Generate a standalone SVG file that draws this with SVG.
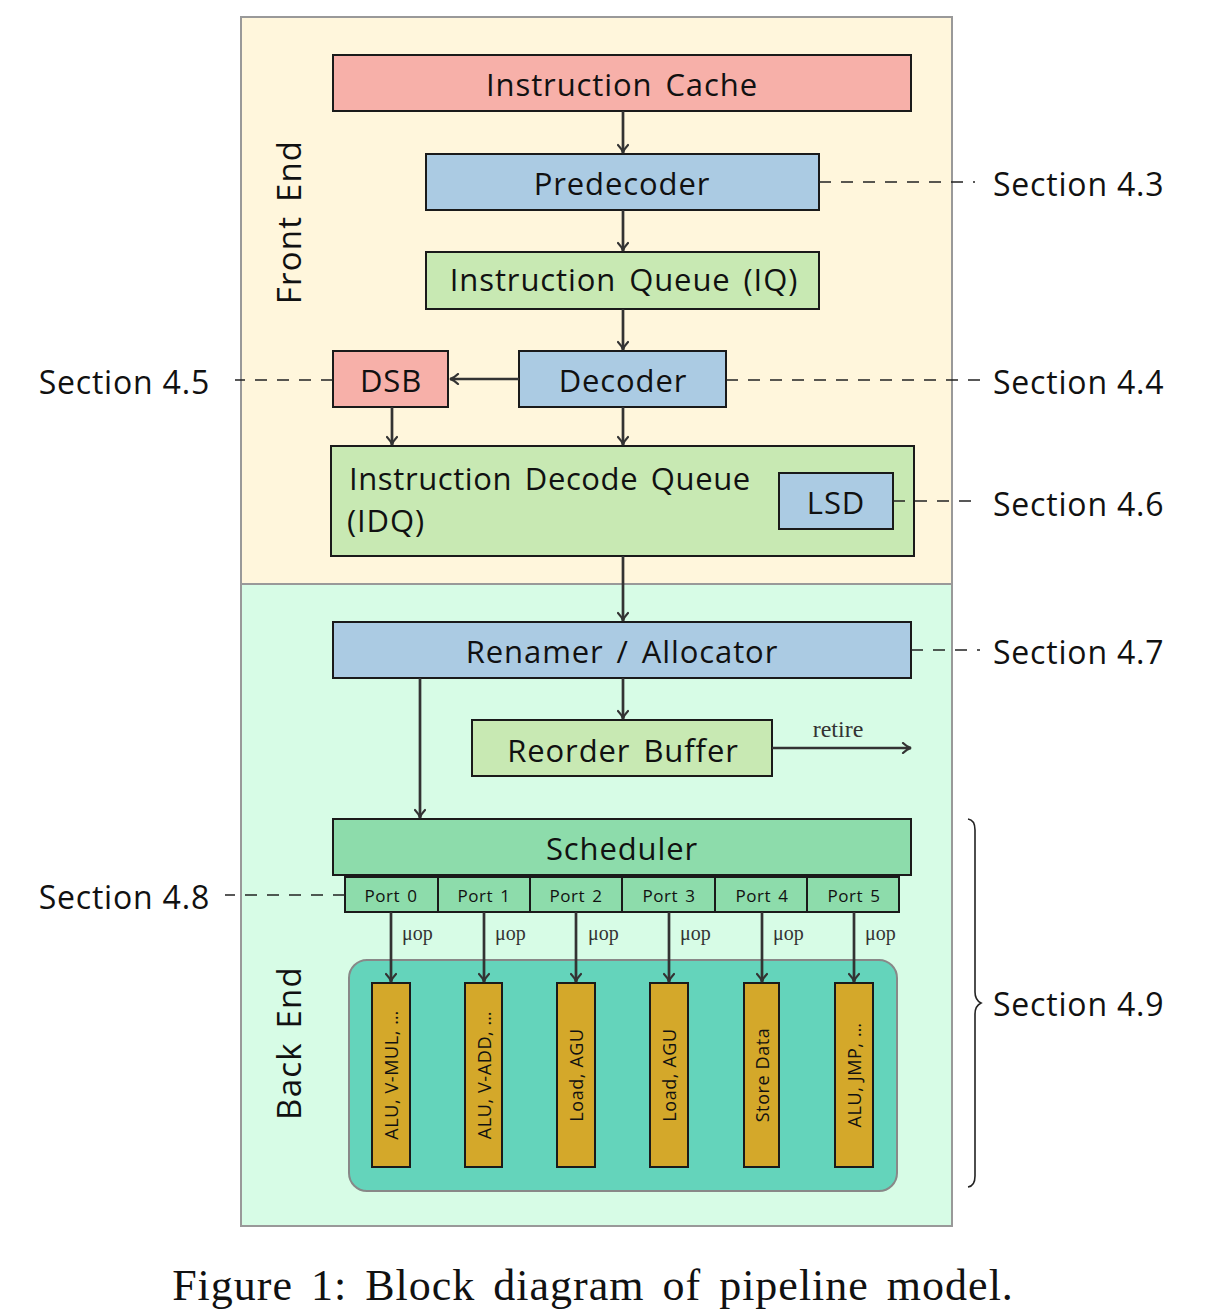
<svg xmlns="http://www.w3.org/2000/svg" width="1210" height="1314" viewBox="0 0 1210 1314">
<defs>
<marker id="ah" viewBox="0 0 12 12" refX="10" refY="6" markerWidth="12" markerHeight="12" markerUnits="userSpaceOnUse" orient="auto">
<path d="M2,1 Q6,5 10,6 Q6,7 2,11" fill="none" stroke="#333" stroke-width="2.2" stroke-linecap="round"/>
</marker>
<style>
.box{stroke:#1a1a1a;stroke-width:2}
.lbl{font-family:"Open Sans","DejaVu Sans",sans-serif;font-size:31px;letter-spacing:0.9px;word-spacing:4px;fill:#111;text-anchor:middle;dominant-baseline:central}
.sec{font-family:"Open Sans","DejaVu Sans",sans-serif;font-size:32px;letter-spacing:0.8px;fill:#111;dominant-baseline:central}
.port{font-family:"Open Sans","DejaVu Sans",sans-serif;font-size:17px;letter-spacing:0.6px;word-spacing:2px;fill:#111;text-anchor:middle;dominant-baseline:central}
.unit{font-family:"Open Sans","DejaVu Sans",sans-serif;font-size:18px;letter-spacing:0.6px;fill:#111;text-anchor:middle;dominant-baseline:central}
.mu{font-family:"Liberation Serif",serif;font-size:20px;fill:#333}
.arr{stroke:#333;stroke-width:2.7;fill:none;marker-end:url(#ah)}
.dash{stroke:#222;stroke-width:1.6;stroke-dasharray:12 10;fill:none}
.pink{fill:#f7b0a9}.blue{fill:#abcbe3}.green{fill:#c8e9b3}.sched{fill:#8ddcab}.unitf{fill:#d4a82a}
</style>
</defs>
<rect width="1210" height="1314" fill="#fff"/>
<g id="frontend">
<rect x="241" y="17" width="711" height="567" fill="#fff6dc" stroke="#999" stroke-width="2"/>
<text class="lbl" transform="translate(288,222) rotate(-90)" style="font-size:33px;letter-spacing:1.2px">Front End</text>
</g>
<g id="backend">
<rect x="241" y="584" width="711" height="642" fill="#d7fce6" stroke="#999" stroke-width="2"/>
<text class="lbl" transform="translate(288,1043) rotate(-90)" style="font-size:33px;letter-spacing:1.2px">Back End</text>
</g>
<g id="icache"><rect class="box pink" x="333" y="55" width="578" height="56"/><text class="lbl" x="622" y="84">Instruction Cache</text></g>
<g id="predecoder"><rect class="box blue" x="426" y="154" width="393" height="56"/><text class="lbl" x="622" y="183">Predecoder</text></g>
<g id="iq"><rect class="box green" x="426" y="252" width="393" height="57"/><text class="lbl" x="624" y="279">Instruction Queue (IQ)</text></g>
<g id="dsb"><rect class="box pink" x="333" y="351" width="115" height="56"/><text class="lbl" x="391" y="380">DSB</text></g>
<g id="decoder"><rect class="box blue" x="519" y="351" width="207" height="56"/><text class="lbl" x="623" y="380">Decoder</text></g>
<g id="idq"><rect class="box green" x="331" y="446" width="583" height="110"/>
<text class="lbl" x="349" y="478" style="text-anchor:start;letter-spacing:0.6px">Instruction Decode Queue</text>
<text class="lbl" x="347" y="520" style="text-anchor:start">(IDQ)</text></g>
<g id="lsd"><rect class="box blue" x="779" y="473" width="114" height="56"/><text class="lbl" x="836" y="502">LSD</text></g>
<g id="renamer"><rect class="box blue" x="333" y="622" width="578" height="56"/><text class="lbl" x="622" y="651">Renamer / Allocator</text></g>
<g id="rob"><rect class="box green" x="472" y="720" width="300" height="56"/><text class="lbl" x="623" y="750">Reorder Buffer</text></g>
<g id="scheduler"><rect class="box sched" x="333" y="819" width="578" height="56"/><text class="lbl" x="622" y="848">Scheduler</text></g>
<g id="ports">
<rect class="box sched" x="345" y="877" width="93" height="35"/><text class="port" x="391" y="895">Port 0</text>
<rect class="box sched" x="438" y="877" width="92" height="35"/><text class="port" x="484" y="895">Port 1</text>
<rect class="box sched" x="530" y="877" width="92" height="35"/><text class="port" x="576" y="895">Port 2</text>
<rect class="box sched" x="622" y="877" width="93" height="35"/><text class="port" x="669" y="895">Port 3</text>
<rect class="box sched" x="715" y="877" width="92" height="35"/><text class="port" x="762" y="895">Port 4</text>
<rect class="box sched" x="807" y="877" width="92" height="35"/><text class="port" x="854" y="895">Port 5</text>
</g>
<g id="pool"><rect x="349" y="960" width="548" height="231" rx="18" fill="#64d4bb" stroke="#888" stroke-width="2"/></g>
<g id="units">
<rect class="box unitf" x="372" y="983" width="38" height="184"/><text class="unit" transform="translate(391,1075) rotate(-90)">ALU, V-MUL, …</text>
<rect class="box unitf" x="465" y="983" width="37" height="184"/><text class="unit" transform="translate(484,1075) rotate(-90)">ALU, V-ADD, …</text>
<rect class="box unitf" x="557" y="983" width="38" height="184"/><text class="unit" transform="translate(576,1075) rotate(-90)">Load, AGU</text>
<rect class="box unitf" x="650" y="983" width="38" height="184"/><text class="unit" transform="translate(669,1075) rotate(-90)">Load, AGU</text>
<rect class="box unitf" x="744" y="983" width="35" height="184"/><text class="unit" transform="translate(762,1075) rotate(-90)">Store Data</text>
<rect class="box unitf" x="835" y="983" width="38" height="184"/><text class="unit" transform="translate(854,1075) rotate(-90)">ALU, JMP, …</text>
</g>
<g id="connectors">
<line class="arr" x1="623" y1="111" x2="623" y2="153"/>
<line class="arr" x1="623" y1="210" x2="623" y2="251"/>
<line class="arr" x1="623" y1="309" x2="623" y2="350"/>
<line class="arr" x1="519" y1="379" x2="450" y2="379"/>
<line class="arr" x1="392" y1="407" x2="392" y2="445"/>
<line class="arr" x1="623" y1="407" x2="623" y2="445"/>
<line class="arr" x1="623" y1="556" x2="623" y2="621"/>
<line class="arr" x1="623" y1="678" x2="623" y2="719"/>
<line class="arr" x1="420" y1="678" x2="420" y2="818"/>
<line class="arr" x1="772" y1="748" x2="911" y2="748"/>
<text class="mu" x="838" y="737" text-anchor="middle" style="font-size:24px">retire</text>
<line class="arr" x1="391" y1="912" x2="391" y2="982"/>
<line class="arr" x1="484" y1="912" x2="484" y2="982"/>
<line class="arr" x1="576" y1="912" x2="576" y2="982"/>
<line class="arr" x1="669" y1="912" x2="669" y2="982"/>
<line class="arr" x1="762" y1="912" x2="762" y2="982"/>
<line class="arr" x1="854" y1="912" x2="854" y2="982"/>
<text class="mu" x="402" y="940">μop</text>
<text class="mu" x="495" y="940">μop</text>
<text class="mu" x="588" y="940">μop</text>
<text class="mu" x="680" y="940">μop</text>
<text class="mu" x="773" y="940">μop</text>
<text class="mu" x="865" y="940">μop</text>
<line class="dash" x1="819" y1="182" x2="975" y2="182"/>
<line class="dash" x1="726" y1="380" x2="980" y2="380"/>
<line class="dash" x1="893" y1="501" x2="980" y2="501"/>
<line class="dash" x1="911" y1="650" x2="980" y2="650"/>
<line class="dash" x1="333" y1="380" x2="235" y2="380"/>
<line class="dash" x1="345" y1="895" x2="225" y2="895"/>
<path d="M968,819 Q975,820 975,830 L975,992 Q975,1000 981,1003 Q975,1006 975,1014 L975,1176 Q975,1186 968,1187" fill="none" stroke="#222" stroke-width="1.6"/>
</g>
<g id="labels">
<text class="sec" x="993" y="183">Section 4.3</text>
<text class="sec" x="993" y="381">Section 4.4</text>
<text class="sec" x="993" y="503">Section 4.6</text>
<text class="sec" x="993" y="651">Section 4.7</text>
<text class="sec" x="993" y="1003">Section 4.9</text>
<text class="sec" x="210" y="381" text-anchor="end">Section 4.5</text>
<text class="sec" x="210" y="896" text-anchor="end">Section 4.8</text>
<text x="593" y="1300" text-anchor="middle" font-family="Liberation Serif, serif" font-size="44" letter-spacing="1" word-spacing="6" fill="#111">Figure 1: Block diagram of pipeline model.</text>
</g>
</svg>
